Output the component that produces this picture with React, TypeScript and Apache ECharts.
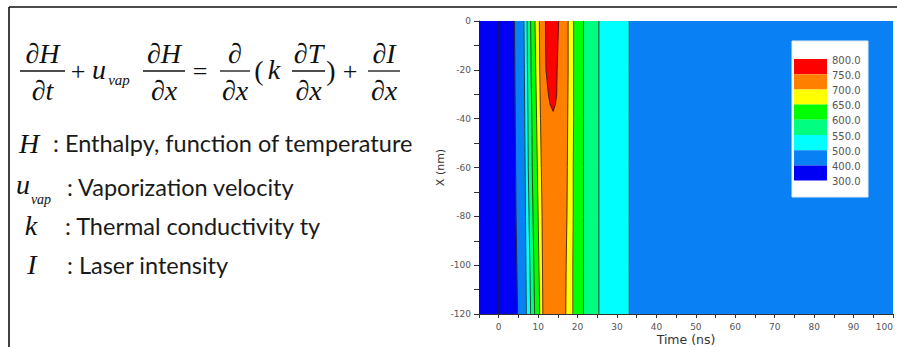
import React, { useEffect, useRef } from "react";
import * as echarts from "echarts";

// ---- data ----
const depths = [0, -20, -40, -60, -80, -100, -120];
const tStart = [-5, -5, -5, -5, -5, -5, -5];
const tEnd = [100, 100, 100, 100, 100, 100, 100];
const rise300 = [0, 0, 0, 0, 0, 0, 0];
const rise400 = [4.0, 4.1, 4.2, 4.3, 4.4, 4.6, 4.8];
const rise500 = [6.4, 6.5, 6.6, 6.7, 6.8, 6.9, 7.0];
const rise550 = [7.2, 7.3, 7.4, 7.5, 7.7, 7.9, 8.1];
const rise600 = [8.1, 8.2, 8.4, 8.5, 8.7, 8.9, 9.1];
const rise650 = [9.2, 9.4, 9.6, 9.8, 10.0, 10.2, 10.4];
const rise700 = [10.3, 10.4, 10.6, 10.8, 11.0, 11.1, 11.2];
const fall700 = [17.6, 17.6, 17.5, 17.4, 17.3, 17.1, 17.0];
const fall650 = [19.0, 19.0, 19.0, 18.9, 18.9, 18.8, 18.8];
const fall600 = [21.5, 21.5, 21.5, 21.5, 21.5, 21.5, 21.5];
const fall550 = [25.4, 25.4, 25.4, 25.4, 25.4, 25.4, 25.4];
const fall500 = [33.1, 33.1, 33.1, 33.1, 33.1, 33.1, 33.1];
const redDepths = [0, -10, -20, -30, -34, -37];
const rise750 = [11.9, 11.9, 12.0, 12.6, 13.0, 13.8];
const fall750 = [15.2, 15.0, 14.8, 14.7, 14.4, 13.8];

const legendLabels = ["800.0", "750.0", "700.0", "650.0", "600.0", "550.0", "500.0", "400.0", "300.0"];
const bandColors = ["#ff0000", "#ff8000", "#ffff00", "#00ff00", "#00ff80", "#00ffff", "#0a80f5", "#0000f5"];

const xMin = -5;
const xMax = 100;
const yMin = -120;
const yMax = 0;

type Region = { depths: number[]; left: number[]; right: number[]; color: string };

const regions: Region[] = [
  { depths, left: tStart, right: tEnd, color: bandColors[7] },
  { depths, left: rise300, right: tEnd, color: bandColors[7] },
  { depths, left: rise400, right: tEnd, color: bandColors[6] },
  { depths, left: rise500, right: fall500, color: bandColors[5] },
  { depths, left: rise550, right: fall550, color: bandColors[4] },
  { depths, left: rise600, right: fall600, color: bandColors[3] },
  { depths, left: rise650, right: fall650, color: bandColors[2] },
  { depths, left: rise700, right: fall700, color: bandColors[1] },
  { depths: redDepths, left: rise750, right: fall750, color: bandColors[0] },
];

const isEdge = (arr: number[]) => arr.every((v) => v === xMin || v === xMax);

const MATH = "'Liberation Serif', 'DejaVu Serif', serif";
const SANS = "Lato, 'Open Sans', sans-serif";

function mathText(text: string, x: number, y: number, size = 28, italic = true, align = "center") {
  return {
    type: "text",
    x,
    y,
    style: {
      text,
      fontFamily: MATH,
      fontSize: size,
      fontStyle: italic ? "italic" : "normal",
      fill: "#111",
      align,
      verticalAlign: "middle",
    },
  };
}

function fraction(num: string, den: string, x1: number, x2: number) {
  const cx = (x1 + x2) / 2;
  return [
    mathText(num, cx, 53),
    { type: "line", shape: { x1, y1: 71, x2, y2: 71 }, style: { stroke: "#111", lineWidth: 1.3 } },
    mathText(den, cx, 90),
  ];
}

function sansText(text: string, x: number, y: number) {
  return {
    type: "text",
    x,
    y,
    style: { text, fontFamily: SANS, fontSize: 23.5, fill: "#1a1a1a", align: "left", verticalAlign: "middle" },
  };
}

export default function App() {
  const ref = useRef<HTMLDivElement>(null);

  useEffect(() => {
    if (!ref.current) return;
    const chart = echarts.init(ref.current, null, { renderer: "svg" });

    const legendX = 794;
    const legendY = 59;
    const blockW = 33;
    const blockH = 15.2;

    const legendEls: any[] = [
      {
        type: "rect",
        shape: { x: 792, y: 41, width: 76, height: 156 },
        style: { fill: "#ffffff", stroke: "#e4ecf4", lineWidth: 1 },
        z: 100,
      },
    ];
    bandColors.forEach((c, i) => {
      legendEls.push({
        type: "rect",
        shape: { x: legendX, y: legendY + i * blockH, width: blockW, height: blockH },
        style: { fill: c },
        z: 101,
      });
    });
    legendLabels.forEach((t, i) => {
      legendEls.push({
        type: "text",
        x: 832,
        y: legendY + i * blockH + 1,
        style: {
          text: t,
          fontFamily: "'DejaVu Sans', sans-serif",
          fontSize: 10,
          fill: "#555",
          align: "left",
          verticalAlign: "middle",
        },
        z: 101,
      });
    });

    const leftEls: any[] = [
      { type: "line", shape: { x1: 9, y1: 7, x2: 897, y2: 7 }, style: { stroke: "#111", lineWidth: 1.6 } },
      { type: "line", shape: { x1: 9, y1: 7, x2: 9, y2: 347 }, style: { stroke: "#111", lineWidth: 1.6 } },
      ...fraction("\u2202H", "\u2202t", 20, 65),
      mathText("+", 78, 71, 26, false),
      mathText("u", 99, 69, 28),
      mathText("vap", 119, 80, 15),
      ...fraction("\u2202H", "\u2202x", 143, 185),
      mathText("=", 200, 71, 26, false),
      ...fraction("\u2202", "\u2202x", 220, 250),
      mathText("(", 259, 70, 28, false),
      mathText("k", 274, 69, 28),
      ...fraction("\u2202T", "\u2202x", 292, 325),
      mathText(")", 331, 70, 28, false),
      mathText("+", 350, 71, 26, false),
      ...fraction("\u2202I", "\u2202x", 368, 400),
      mathText("H", 29, 143, 28),
      sansText(": Enthalpy, function of temperature", 53, 143),
      mathText("u", 23, 184, 28),
      mathText("vap", 41, 199, 14),
      sansText(": Vaporization velocity", 67, 187),
      mathText("k", 31, 225, 28),
      sansText(": Thermal conductivity ty", 65, 226),
      mathText("I", 32, 264, 28),
      sansText(": Laser intensity", 67, 265),
    ];

    const axisLabel = {
      color: "#555",
      fontFamily: "'DejaVu Sans', sans-serif",
      fontSize: 9,
    };

    chart.setOption({
      animation: false,
      backgroundColor: "#ffffff",
      grid: { left: 479, top: 21, right: 4, bottom: 33, containLabel: false, outerBoundsMode: "none" },
      xAxis: {
        type: "value",
        min: xMin,
        max: xMax,
        interval: 5,
        name: "Time (ns)",
        nameLocation: "middle",
        nameGap: 25,
        nameMoveOverlap: false,
        nameTextStyle: {
          color: "#333",
          fontFamily: "'DejaVu Sans', sans-serif",
          fontSize: 12.5,
          verticalAlign: "middle",
        },
        axisLine: { show: true, onZero: false, lineStyle: { color: "#333", width: 1 } },
        axisTick: { show: true, inside: false, length: 4, lineStyle: { color: "#333" } },
        axisLabel: {
          ...axisLabel,
          margin: 8,
          alignMaxLabel: "right",
          formatter: (v: number) => (Math.round(v) % 10 === 0 ? String(Math.round(v)) : ""),
        },
        splitLine: { show: false },
      },
      yAxis: {
        type: "value",
        min: yMin,
        max: yMax,
        interval: 10,
        name: "X (nm)",
        nameLocation: "middle",
        nameGap: 33,
        nameRotate: 90,
        nameMoveOverlap: false,
        nameTextStyle: { color: "#333", fontFamily: "'DejaVu Sans', sans-serif", fontSize: 11 },
        axisLine: { show: true, onZero: false, lineStyle: { color: "#333", width: 1 } },
        axisTick: { show: true, inside: false, length: 5, lineStyle: { color: "#333" } },
        axisLabel: {
          ...axisLabel,
          margin: 8,
          formatter: (v: number) => (Math.round(v) % 20 === 0 ? String(Math.round(v)) : ""),
        },
        splitLine: { show: false },
      },
      series: [
        {
          type: "custom",
          coordinateSystem: "cartesian2d",
          clip: true,
          data: regions.map((_, i) => [i]),
          renderItem: (params: any, api: any) => {
            const r = regions[params.dataIndex];
            const lp = r.depths.map((d, j) => api.coord([r.left[j], d]));
            const rp = r.depths.map((d, j) => api.coord([r.right[j], d]));
            const poly = lp.concat(rp.slice().reverse());
            const children: any[] = [
              { type: "polygon", shape: { points: poly }, style: { fill: r.color, stroke: r.color, lineWidth: 0.5 } },
            ];
            const lineStyle = { stroke: "rgba(45,25,25,0.8)", lineWidth: 1, fill: null };
            if (!isEdge(r.left)) children.push({ type: "polyline", shape: { points: lp }, style: lineStyle });
            if (!isEdge(r.right)) children.push({ type: "polyline", shape: { points: rp }, style: lineStyle });
            return { type: "group", children };
          },
        },
      ],
      graphic: [...leftEls, ...legendEls],
    });

    return () => chart.dispose();
  }, []);

  return (
    <div
      ref={ref}
      style={{ position: "fixed", left: 0, top: 0, width: 897, height: 347, background: "#fff" }}
    />
  );
}
